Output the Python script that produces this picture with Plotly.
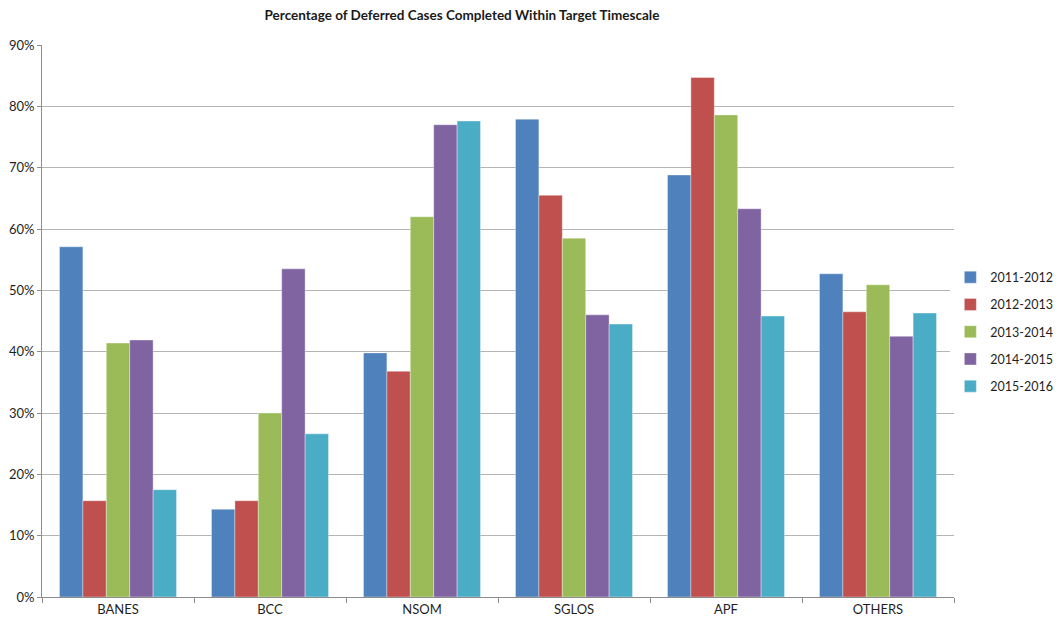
import plotly.graph_objects as go

# Deferred cases completed within target timescale, by area and year
areas = ["BANES", "BCC", "NSOM", "SGLOS", "APF", "OTHERS"]
years = ["2011-2012", "2012-2013", "2013-2014", "2014-2015", "2015-2016"]
pct_2011_2012 = [57.1, 14.3, 39.8, 77.9, 68.8, 52.7]
pct_2012_2013 = [15.7, 15.7, 36.8, 65.5, 84.7, 46.5]
pct_2013_2014 = [41.4, 30.0, 62.0, 58.5, 78.6, 50.9]
pct_2014_2015 = [41.9, 53.5, 77.0, 46.0, 63.3, 42.5]
pct_2015_2016 = [17.5, 26.6, 77.6, 44.5, 45.8, 46.3]
series = [pct_2011_2012, pct_2012_2013, pct_2013_2014, pct_2014_2015, pct_2015_2016]
colors = ["#4F81BD", "#C0504D", "#9BBB59", "#8064A2", "#4BACC6"]

font_family = "Lato, Liberation Sans, Arial, sans-serif"

fig = go.Figure()
for name, vals, col in zip(years, series, colors):
    fig.add_trace(go.Bar(
        x=areas, y=[v / 100 for v in vals], name=name, legendgroup=name,
        marker=dict(color=col, line=dict(color="rgba(255,255,255,0.6)", width=0.6)),
    ))

fig.update_layout(
    width=1059, height=626,
    margin=dict(l=42, r=105, t=45, b=29, autoexpand=False),
    paper_bgcolor="white", plot_bgcolor="white",
    barmode="group", bargap=0.23, bargroupgap=0,
    font=dict(family=font_family, size=13, color="#1f1f1f"),
    title=dict(
        text="<b>Percentage of Deferred Cases Completed Within Target Timescale</b>",
        x=0.4605, xref="paper", xanchor="center", y=0.975, yanchor="middle",
        font=dict(size=13.5, color="#1a1a1a", family=font_family),
    ),
    legend=dict(
        x=0.996, xanchor="left", y=0.48, yanchor="middle",
        font=dict(size=12.5, color="#1f1f1f"), tracegroupgap=8,
        itemwidth=30,
    ),
    showlegend=True,
)
fig.update_yaxes(
    range=[0, 0.9], dtick=0.1, tickformat=".0%",
    showgrid=True, gridcolor="#b4b4b4", gridwidth=1,
    showline=True, linecolor="#8c8c8c", linewidth=1,
    ticks="outside", ticklen=4, tickcolor="#8c8c8c",
    zeroline=False, tickfont=dict(size=13, color="#1f1f1f"),
)
fig.update_xaxes(
    showline=True, linecolor="#8c8c8c", linewidth=1,
    ticks="outside", ticklen=5, tickcolor="#8c8c8c", tickson="boundaries",
    tickfont=dict(size=13, color="#1f1f1f"), mirror=False,
)

fig.write_html("out.html")
